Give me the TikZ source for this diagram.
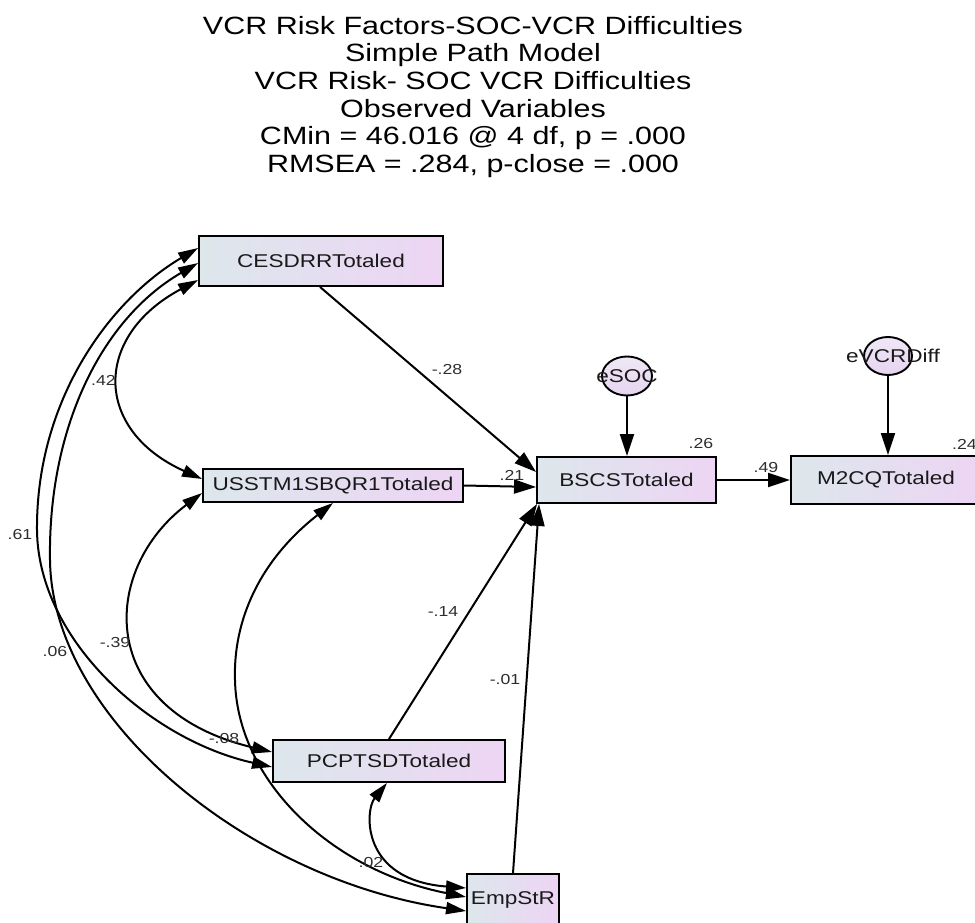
\documentclass[tikz,border=0pt]{standalone}
\usepackage{fontspec}
\newfontfamily\amos{Liberation Sans}[FakeStretch=1.22]
\usetikzlibrary{arrows.meta,shapes.geometric}
\definecolor{boxL}{RGB}{221,231,236}
\definecolor{boxR}{RGB}{237,213,244}
\definecolor{ellT}{RGB}{238,232,246}
\definecolor{ellB}{RGB}{230,212,240}
\definecolor{txt}{RGB}{25,25,25}
\definecolor{lbl}{RGB}{45,45,45}
\begin{document}
\begin{tikzpicture}[x=1pt,y=-1pt,
  var/.style={draw=black, line width=1.9pt, left color=boxL, right color=boxR, inner sep=0pt,
    font=\amos\fontsize{18.5}{20}\selectfont, text=txt},
  err/.style={ellipse, draw=black, line width=1.9pt, top color=ellT, bottom color=ellB, inner sep=0pt},
  regr/.style={line width=2pt, -{Triangle[length=22pt,width=14pt]}},
  cov/.style={line width=2pt, {Triangle[length=20pt,width=12pt]}-{Triangle[length=20pt,width=12pt]}},
  coef/.style={font=\amos\fontsize{14.5}{16}\selectfont, text=lbl, inner sep=0pt},
]
\useasboundingbox (0,0) rectangle (975,923);

% title
\node[font=\amos\fontsize{25}{27.6}\selectfont, align=center, anchor=north, inner sep=0pt, text=black] (title) at (473,16)
 {VCR Risk Factors-SOC-VCR Difficulties\\Simple Path Model\\VCR Risk- SOC VCR Difficulties\\Observed Variables\\CMin = 46.016 @ 4 df, p = .000\\RMSEA = .284, p-close = .000};

% observed variables
\node[var, minimum width=244pt, minimum height=50pt] (cesdrr) at (321,261) {CESDRRTotaled};
\node[var, minimum width=260pt, minimum height=33pt] (usstm) at (333,485.5) {USSTM1SBQR1Totaled};
\node[var, minimum width=179pt, minimum height=46pt] (bscs) at (626.5,480) {BSCSTotaled};
\node[var, minimum width=190pt, minimum height=48pt] (m2cq) at (886,480) {M2CQTotaled};
\node[var, minimum width=232pt, minimum height=42pt] (pcptsd) at (389,761) {PCPTSDTotaled};
\node[var, minimum width=92pt, minimum height=52pt] (empstr) at (513,900) {EmpStR};

% error terms
\node[err, minimum width=50pt, minimum height=39pt,
  label={[font=\amos\fontsize{18.5}{20}\selectfont, text=txt]center:eSOC}] (esoc) at (627,376) {};
\node[err, minimum width=48pt, minimum height=38pt,
  label={[font=\amos\fontsize{18.5}{20}\selectfont, text=txt, xshift=5pt]center:eVCRDiff}] (evcr) at (888,356) {};

% regression paths
\draw[regr] ([xshift=-1pt]cesdrr.south) -- ([yshift=8pt]bscs.west);
\draw[regr] (usstm.east) -- ([yshift=-7pt]bscs.west);
\draw[regr] (pcptsd.north) -- ([xshift=1pt]bscs.south west);
\draw[regr] (empstr.north) -- ([xshift=3pt]bscs.south west);
\draw[regr] (bscs.east) -- (m2cq.west);
\draw[regr] (esoc.south) -- (esoc.south |- bscs.north);
\draw[regr] (evcr.south) -- (evcr.south |- m2cq.north);

% covariances
\draw[cov] ([yshift=-19pt]cesdrr.west) .. controls (93,336) and (93,430) .. ([yshift=6.5pt]usstm.west);
\draw[cov] ([yshift=13pt]cesdrr.west) .. controls (110,300) and (36,400) .. (37,530)
  .. controls (38,640) and (150,740) .. ([yshift=-6pt]pcptsd.west);
\draw[cov] ([yshift=-2pt]cesdrr.west) .. controls (100,320) and (48,430) .. (50,560)
  .. controls (52,720) and (250,880) .. ([yshift=-11pt]empstr.west);
\draw[cov] ([yshift=-7.5pt]usstm.west) .. controls (100,570) and (95,710) .. ([yshift=9pt]pcptsd.west);
\draw[cov] (usstm.south) .. controls (260,560) and (233,620) .. (235,680)
  .. controls (237,780) and (330,870) .. ([yshift=3pt]empstr.west);
\draw[cov] ([xshift=-2pt]pcptsd.south) .. controls (365,810) and (360,880) .. ([yshift=12pt]empstr.west);

% coefficients
\node[coef] (c28) at (447,370) {-.28};
\node[coef] (c42) at (103.5,380) {.42};
\node[coef] (c61) at (20,535) {.61};
\node[coef] (c06) at (55,652) {.06};
\node[coef] (c39) at (115,643) {-.39};
\node[coef] (c08) at (224,739) {-.08};
\node[coef] (c02) at (371,863) {.02};
\node[coef] (c14) at (443,612) {-.14};
\node[coef] (c01) at (505,680) {-.01};
\node[coef] (c21) at (512,475) {.21};
\node[coef] (c26) at (701,444) {.26};
\node[coef] (c49) at (766,468) {.49};
\node[coef] (c24) at (964.5,444) {.24};
\end{tikzpicture}
\end{document}
